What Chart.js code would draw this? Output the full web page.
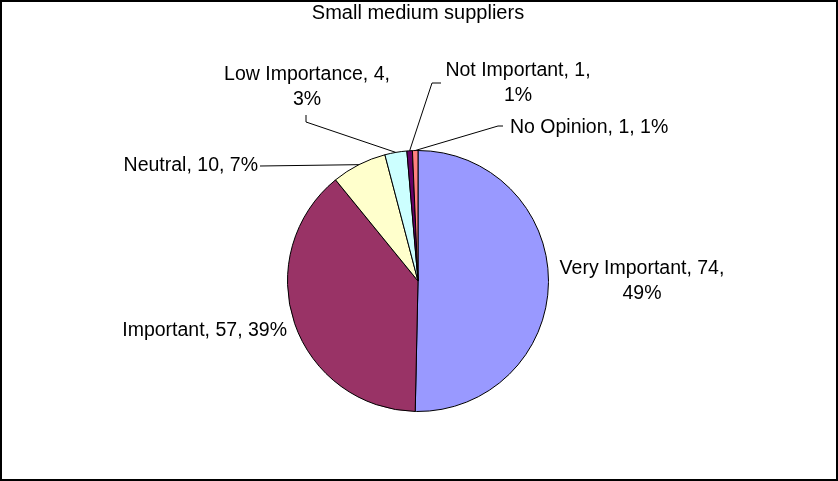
<!DOCTYPE html>
<html>
<head>
<meta charset="utf-8">
<title>Small medium suppliers</title>
<script src="https://cdn.jsdelivr.net/npm/chart.js@4.4.1/dist/chart.umd.min.js"></script>
<style>
  html, body { margin: 0; padding: 0; background: #fff; }
  #wrap { width: 838px; height: 481px; }
</style>
</head>
<body>
<div id="wrap"><canvas id="pieChart" width="838" height="481"></canvas></div>
<script>
// Data
const categories = ['Very Important', 'Important', 'Neutral', 'Low Importance', 'Not Important', 'No Opinion'];
const counts = [74, 57, 10, 4, 1, 1];
const percents = [49, 39, 7, 3, 1, 1];
const sliceColors = ['#9999FF', '#993366', '#FFFFCC', '#CCFFFF', '#660066', '#FF8080'];

const labelFont = '19.5px "Liberation Sans", Arial, sans-serif';
const lineGap = 25;

// Label placement, relative to the pie centre (layout only)
// leader: points from label to slice edge
const labelLayout = [
    { dx: 224, dy: -12, align: 'center', split: true, leader: null },
    { dx: -131, dy: 50, align: 'right', split: false, leader: null },
    { dx: -160, dy: -115, align: 'right', split: false, leader: [[-158, -115]] },
    { dx: -111, dy: -206.5, align: 'center', split: true, leader: [[-112, -166], [-112, -159]] },
    { dx: 100, dy: -210.5, align: 'center', split: true, leader: [[23, -198], [14, -198]] },
    { dx: 92, dy: -153.5, align: 'left', split: false, leader: [[85, -155], [80, -155]] }
];

// Draw data labels with leader lines
const pieLabels = {
    id: 'pieLabels',
    afterDatasetsDraw(chart) {
        const ctx = chart.ctx;
        const arcs = chart.getDatasetMeta(0).data;
        ctx.save();
        ctx.font = labelFont;
        ctx.fillStyle = '#000';
        ctx.strokeStyle = '#000';
        ctx.lineWidth = 1;
        ctx.textBaseline = 'middle';

        arcs.forEach((arc, i) => {
            const lay = labelLayout[i];
            const cx = arc.x, cy = arc.y;
            const mid = (arc.startAngle + arc.endAngle) / 2;
            const edgeX = cx + Math.cos(mid) * arc.outerRadius;
            const edgeY = cy + Math.sin(mid) * arc.outerRadius;

            if (lay.leader) {
                ctx.beginPath();
                lay.leader.forEach((p, k) => {
                    if (k === 0) ctx.moveTo(cx + p[0], cy + p[1]);
                    else ctx.lineTo(cx + p[0], cy + p[1]);
                });
                ctx.lineTo(edgeX, edgeY);
                ctx.stroke();
            }

            const first = categories[i] + ', ' + counts[i] + ',';
            const pct = percents[i] + '%';
            ctx.textAlign = lay.align;
            if (lay.split) {
                ctx.fillText(first, cx + lay.dx, cy + lay.dy);
                ctx.fillText(pct, cx + lay.dx, cy + lay.dy + lineGap);
            } else {
                ctx.fillText(first + ' ' + pct, cx + lay.dx, cy + lay.dy);
            }
        });
        ctx.restore();
    },
    afterDraw(chart) {
        // outer frame
        const ctx = chart.ctx;
        ctx.save();
        ctx.strokeStyle = '#000';
        ctx.lineWidth = 2;
        ctx.strokeRect(1, 1, chart.width - 2, chart.height - 2);
        ctx.restore();
    }
};

new Chart(document.getElementById('pieChart'), {
    type: 'pie',
    data: {
        labels: categories,
        datasets: [{
            data: counts,
            backgroundColor: sliceColors,
            borderColor: '#000',
            borderWidth: 1
        }]
    },
    options: {
        responsive: false,
        animation: false,
        layout: {
            padding: { top: 0, left: 287, right: 289, bottom: 69 }
        },
        plugins: {
            legend: { display: false },
            tooltip: { enabled: false },
            title: {
                display: true,
                text: 'Small medium suppliers',
                color: '#000',
                font: { family: '"Liberation Sans", Arial, sans-serif', size: 20, weight: 'normal', lineHeight: 1.2 },
                padding: { top: 1, bottom: 125 }
            }
        }
    },
    plugins: [pieLabels]
});
</script>
</body>
</html>
